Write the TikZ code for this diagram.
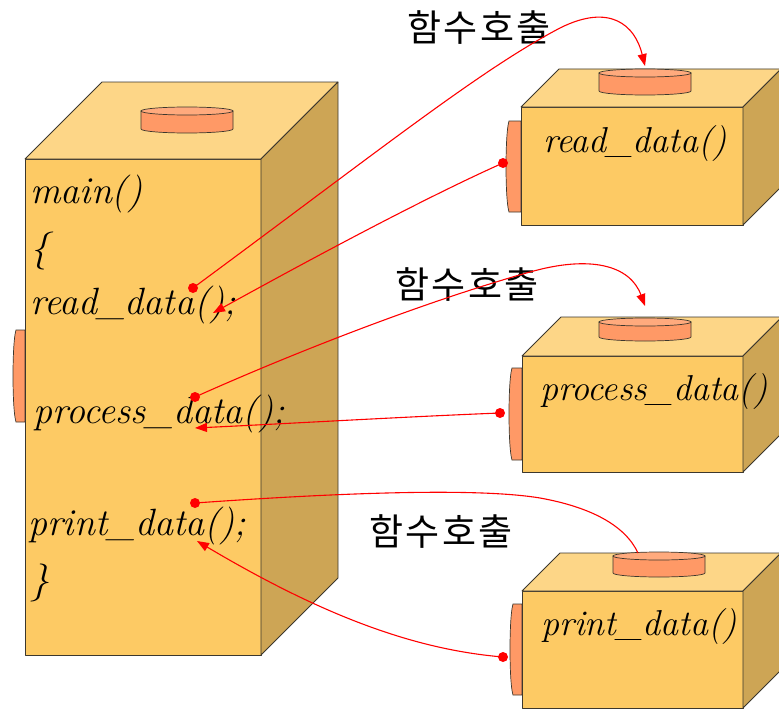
\documentclass[tikz,border=0pt]{standalone}
\usepackage{fontspec}
\newfontfamily\korfont{Noto Sans CJK KR}
\usetikzlibrary{arrows.meta}
\definecolor{frontc}{RGB}{253,202,100}
\definecolor{topc}{RGB}{253,214,135}
\definecolor{sidec}{RGB}{205,165,85}
\definecolor{edgec}{RGB}{60,55,45}
\definecolor{salmon}{RGB}{255,153,102}
\definecolor{salmontop}{RGB}{255,170,125}
\definecolor{linkred}{RGB}{255,0,0}
\newcommand\drawcube[5]{%
  \filldraw[face,fill=frontc] (#1,#2) rectangle (#3,#4);
  \filldraw[face,fill=topc] (#1,#2) -- (#1+#5,#2-#5) -- (#3+#5,#2-#5) -- (#3,#2) -- cycle;
  \filldraw[face,fill=sidec] (#3,#2) -- (#3+#5,#2-#5) -- (#3+#5,#4-#5) -- (#3,#4) -- cycle;}
\newcommand\drawcyl[4]{%
  \filldraw[cylst] (#1-#4,#2) -- (#1-#4,#3) arc[start angle=180,end angle=0,x radius=#4,y radius=4] -- (#1+#4,#2) -- cycle;
  \filldraw[cylst,fill=salmontop] (#1,#2) ellipse[x radius=#4,y radius=4];}
\newcommand\drawtab[4]{%
  \filldraw[cylst] (#2,#3) -- (#1+4,#3) .. controls (#1,#3+12) and (#1,#4-12) .. (#1+4,#4) -- (#2,#4) -- cycle;}
\newcommand\korlabel{함\kern2pt수\kern2pt호\kern2pt출}
\begin{document}
\begin{tikzpicture}[x=1pt,y=-1pt,
  face/.style={draw=edgec,line width=0.8pt,line join=round},
  cylst/.style={draw=edgec,line width=0.7pt,fill=salmon},
  codetxt/.style={font=\fontsize{38}{40}\selectfont\itshape,anchor=base west,inner sep=0pt},
  boxtxt/.style={font=\fontsize{36}{38}\selectfont\itshape,anchor=base west,inner sep=0pt},
  kortxt/.style={font=\korfont\fontsize{37}{40}\selectfont,inner sep=0pt},
  link/.style={draw=linkred,line width=1.1pt},
  arr/.style={-{Triangle[length=12pt,width=9pt]}},
  dot/.style={fill=linkred}]
\useasboundingbox (0,0) rectangle (779,709);
% main box
\drawtab{12}{25}{330}{422}
\drawcube{25}{159}{261}{655}{77}
\drawcyl{187}{111}{129}{46}
% read_data box
\drawtab{505}{521}{121}{212}
\drawcube{521}{107}{743}{225}{38}
\drawcyl{645}{73}{91}{46}
% process_data box
\drawtab{508}{522}{368}{460}
\drawcube{522}{356}{743}{472}{39}
\drawcyl{645}{322}{337}{46}
% print_data box
\drawtab{509}{522}{604}{695}
\drawcube{522}{591}{743}{708}{38}
\drawcyl{659}{556}{573}{46}
% texts
\node[codetxt] (tmain) at (30,203) {main()};
\node[codetxt] (topen) at (30,260) {\{};
\node[codetxt] (tread) at (30,314) {read\_data();};
\node[codetxt] (tproc) at (33,423) {process\_data();};
\node[codetxt] (tprint) at (28,535) {print\_data();};
\node[codetxt] (tclose) at (30,592) {\}};
\node[boxtxt] (bread) at (543,152) {read\_data()};
\node[boxtxt] (bproc) at (540,400) {process\_data()};
\node[boxtxt] (bprint) at (541,635) {print\_data()};
\node[kortxt] (k1) at (479,28) {\korlabel};
\node[kortxt] (k2) at (467,285) {\korlabel};
\node[kortxt] (k3) at (441,532) {\korlabel};
% connector points
\coordinate (d1) at (193,288);
\coordinate (e1) at (645,66);
\coordinate (s2) at (503,163);
\coordinate (e2) at (213,313);
\coordinate (d3) at (195,397);
\coordinate (e3) at (645,306);
\coordinate (s4) at (500,413);
\coordinate (e4) at (195,428);
\coordinate (d5) at (195,503);
\coordinate (e5) at (638,553);
\coordinate (s6) at (503,657);
\coordinate (e6) at (197,541);
% connectors
\draw[link,arr] (d1) .. controls (380,150) and (480,70) .. (560,28) .. controls (610,3) and (635,25) .. (e1);
\draw[link,arr] (s2) .. controls (420,200) and (300,265) .. (e2);
\draw[link,arr] (d3) .. controls (300,350) and (430,300) .. (530,272) .. controls (590,255) and (630,265) .. (e3);
\draw[link,arr] (s4) .. controls (400,417) and (300,423) .. (e4);
\draw[link] (d5) .. controls (350,492) and (480,488) .. (540,498) .. controls (590,507) and (625,525) .. (e5);
\draw[link,arr] (s6) .. controls (420,650) and (330,620) .. (e6);
% dots
\fill[dot] (d1) circle (5);
\fill[dot] (s2) circle (5);
\fill[dot] (d3) circle (5);
\fill[dot] (s4) circle (5);
\fill[dot] (d5) circle (5);
\fill[dot] (s6) circle (5);
\end{tikzpicture}
\end{document}
